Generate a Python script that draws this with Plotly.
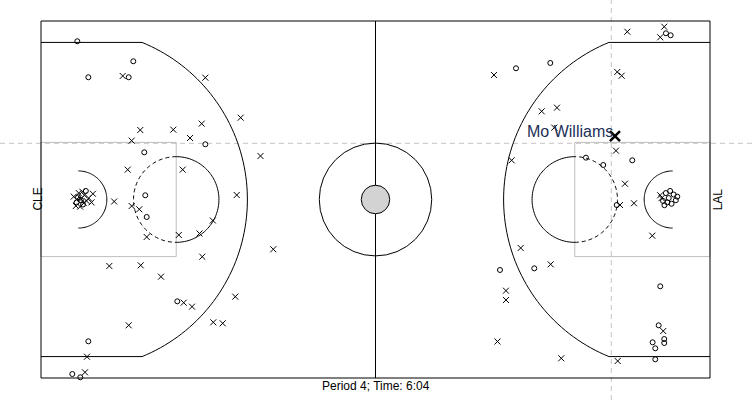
import numpy as np
import plotly.graph_objects as go

# ---------------- data (court feet, 94 x 50) ----------------
made_x = [5.10, 12.97, 6.65, 12.32, 23.09, 14.51, 14.65, 14.85, 19.15, 6.65, 4.40, 5.52,
          5.0, 5.9, 5.2, 6.3, 5.6,
          66.74, 71.56, 87.81, 88.47, 83.08, 76.57, 79.00, 80.89, 69.31, 64.49, 87.01,
          86.79, 87.57, 87.57, 85.94, 86.31, 86.31,
          87.4, 87.8, 88.2, 88.6, 88.9, 87.6, 88.4, 89.2, 88.0, 89.4]
made_y = [47.16, 44.36, 42.12, 42.12, 32.73, 31.61, 25.59, 22.55, 10.74, 5.14, 0.56, 0.10,
          24.6, 24.3, 25.3, 26.2, 24.9,
          43.38, 44.12, 48.28, 48.00, 30.49, 30.86, 29.83, 24.23, 15.36, 15.13, 12.84,
          7.38, 5.46, 4.90, 5.00, 4.16, 2.62,
          24.8, 25.9, 25.2, 24.4, 25.7, 24.2, 26.2, 24.9, 24.6, 25.4]

miss_x = [11.48, 23.09, 28.06, 13.95, 18.59, 22.58, 20.94, 12.74, 12.18, 19.91, 27.50, 30.84,
          10.28, 12.74, 13.81, 24.14, 14.85, 19.36, 22.27, 22.66, 9.60, 14.01, 16.86, 27.30,
          20.05, 21.22, 12.32, 24.21, 25.53, 6.46, 6.18, 32.64,
          4.6, 5.3, 5.6, 6.1, 6.4, 5.8, 6.7, 7.1, 4.9, 5.5, 7.3, 5.0, 6.0,
          63.65, 82.38, 87.57, 87.01, 80.97, 81.59, 70.35, 72.50, 72.12, 80.79, 66.13, 82.05,
          81.35, 83.32, 85.89, 67.40, 71.61, 65.33, 65.33, 64.14, 73.10, 81.03, 87.43,
          87.0, 87.2]
miss_y = [42.30, 42.06, 36.46, 34.73, 34.78, 35.62, 33.61, 33.24, 29.18, 29.18, 25.63, 31.09,
          24.72, 24.09, 23.63, 22.06, 19.75, 20.03, 20.24, 16.99, 15.69, 15.78, 14.19, 11.39,
          10.55, 9.99, 7.38, 7.80, 7.66, 2.98, 0.80, 18.03,
          25.4, 25.9, 25.1, 25.6, 24.8, 26.1, 25.2, 24.6, 24.1, 24.0, 25.8, 25.0, 24.5,
          42.44, 48.50, 49.20, 47.72, 42.86, 42.34, 37.35, 37.86, 35.06, 31.84, 30.49, 27.21,
          24.23, 24.47, 19.93, 18.21, 15.92, 12.23, 10.92, 5.11, 2.76, 2.38, 6.58,
          25.6, 25.2]

highlight_name = ["Mo Williams"]
highlight_x = [80.65]
highlight_y = [33.89]

left_team = "CLE"
right_team = "LAL"
caption = "Period 4; Time: 6:04"
cross_x = 80.13
cross_y = 32.87

# ---------------- court geometry ----------------
L, W = 94.0, 50.0
FONT = "Arial, Liberation Sans, sans-serif"


def arc(cx, cy, r, a0, a1, n=80):
    t = np.radians(np.linspace(a0, a1, n))
    xs = cx + r * np.cos(t)
    ys = cy + r * np.sin(t)
    return "M " + " L ".join(f"{a:.4f},{b:.4f}" for a, b in zip(xs, ys))


shapes = []
blk = dict(color="black", width=1)
gry = dict(color="#bebebe", width=1)

# lanes (gray)
shapes.append(dict(type="rect", x0=0, x1=19, y0=17, y1=33, line=gry, layer="below"))
shapes.append(dict(type="rect", x0=L - 19, x1=L, y0=17, y1=33, line=gry, layer="below"))
# crosshair
ch = dict(color="#c4c4c4", width=1, dash="5px,4px")
shapes.append(dict(type="line", xref="paper", x0=0, x1=1, y0=cross_y, y1=cross_y, line=ch, layer="below"))
shapes.append(dict(type="line", yref="paper", y0=0, y1=1, x0=cross_x, x1=cross_x, line=ch, layer="below"))
# boundary & center
shapes.append(dict(type="rect", x0=0, x1=L, y0=0, y1=W, line=blk, layer="below"))
shapes.append(dict(type="line", x0=L / 2, x1=L / 2, y0=0, y1=W, line=blk, layer="below"))
shapes.append(dict(type="circle", x0=L / 2 - 7.9, x1=L / 2 + 7.9, y0=25 - 7.9, y1=25 + 7.9, line=blk, layer="below"))
shapes.append(dict(type="circle", x0=L / 2 - 2, x1=L / 2 + 2, y0=23, y1=27, line=blk,
                   fillcolor="#d3d3d3", layer="below"))

# free throw circles
dash = dict(color="black", width=1, dash="4px,3px")
shapes.append(dict(type="path", path=arc(19, 25, 6, -90, 90), line=blk, layer="below"))
shapes.append(dict(type="path", path=arc(19, 25, 6, 90, 270), line=dash, layer="below"))
shapes.append(dict(type="path", path=arc(L - 19, 25, 6, 90, 270), line=blk, layer="below"))
shapes.append(dict(type="path", path=arc(L - 19, 25, 6, -90, 90), line=dash, layer="below"))

# restricted areas
shapes.append(dict(type="path", path=arc(5.25, 25, 4, -90, 90), line=blk, layer="below"))
shapes.append(dict(type="path", path=arc(L - 5.25, 25, 4, 90, 270), line=blk, layer="below"))

# three point lines
th = np.degrees(np.arcsin(22 / 23.75))
cx3 = 5.25 + np.sqrt(23.75 ** 2 - 22 ** 2)
shapes.append(dict(type="path", path=f"M 0,3 L {cx3:.4f},3 " + arc(5.25, 25, 23.75, -th, th).replace("M", "L", 1)
                   + f" L 0,47", line=blk, layer="below"))
shapes.append(dict(type="path", path=f"M {L},3 L {L - cx3:.4f},3 " + arc(L - 5.25, 25, 23.75, 180 + th, 180 - th).replace("M", "L", 1)
                   + f" L {L},47", line=blk, layer="below"))

fig = go.Figure()
fig.add_trace(go.Scatter(x=miss_x, y=miss_y, mode="markers",
                         marker=dict(symbol="x-thin-open", size=6, color="black",
                                     line=dict(color="black", width=1)),
                         hoverinfo="skip", showlegend=False))
fig.add_trace(go.Scatter(x=made_x, y=made_y, mode="markers",
                         marker=dict(symbol="circle-open", size=5, color="black",
                                     line=dict(color="black", width=1)),
                         hoverinfo="skip", showlegend=False))
fig.add_trace(go.Scatter(x=highlight_x, y=highlight_y, mode="markers",
                         marker=dict(symbol="x-thin-open", size=10, color="black",
                                     line=dict(color="black", width=2.5)),
                         hoverinfo="skip", showlegend=False))

annotations = [
    dict(x=highlight_x[0] - 0.05, y=highlight_y[0] + 0.65, text=highlight_name[0], showarrow=False,
         xanchor="right", yanchor="middle", font=dict(family=FONT, size=16, color="#1c2f57")),
    dict(x=L / 2, y=-1.05, text=caption, showarrow=False, xanchor="center", yanchor="middle",
         font=dict(family=FONT, size=12, color="black")),
    dict(x=-0.55, y=25, text=left_team, showarrow=False, textangle=-90, xanchor="center",
         yanchor="middle", font=dict(family=FONT, size=12, color="black")),
    dict(x=L + 1.1, y=25, text=right_team, showarrow=False, textangle=-90, xanchor="center",
         yanchor="middle", font=dict(family=FONT, size=12, color="black")),
]

fig.update_layout(
    width=752, height=400,
    margin=dict(l=0, r=0, t=0, b=0),
    paper_bgcolor="white", plot_bgcolor="white",
    xaxis=dict(range=[-41 / 7.117, (752 - 41) / 7.117], visible=False, fixedrange=True),
    yaxis=dict(range=[(378 - 400) / 7.14, 378 / 7.14], visible=False, fixedrange=True),
    shapes=shapes, annotations=annotations, showlegend=False,
)

fig.write_html("out.html")
